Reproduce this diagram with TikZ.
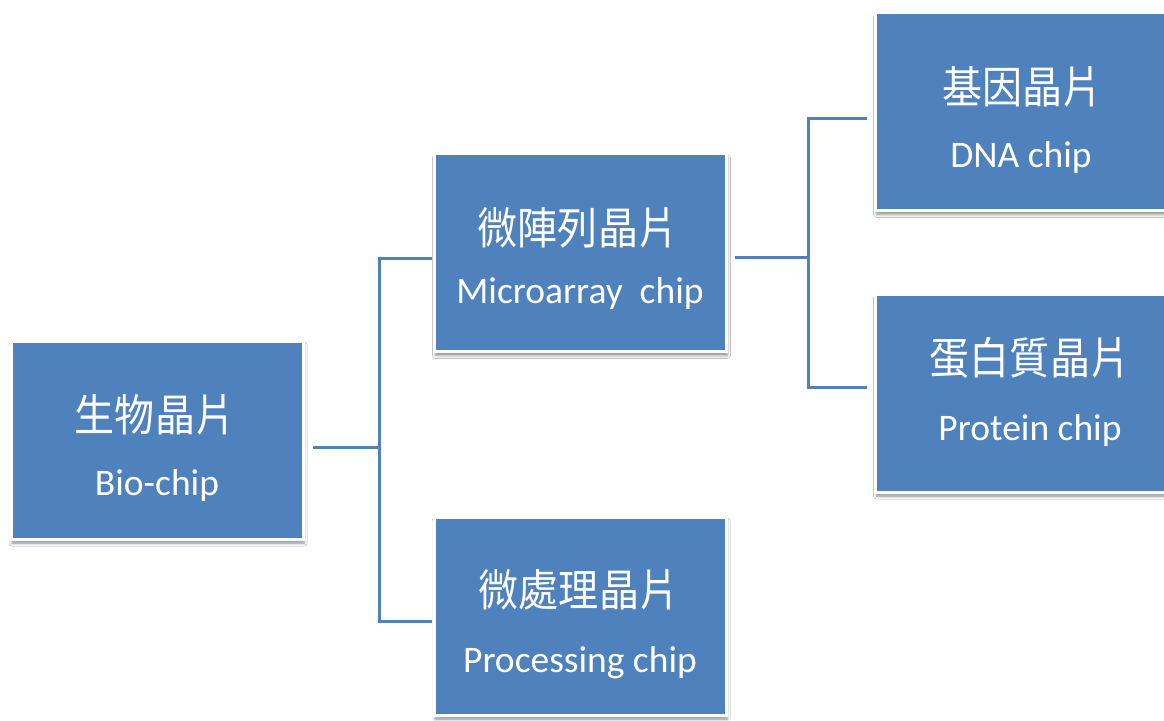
\documentclass[tikz,border=0pt]{standalone}
\usepackage{fontspec}
\setmainfont{Carlito}
\newfontfamily\cjk[FakeStretch=0.91]{Noto Sans CJK TC}
\usetikzlibrary{shadows.blur}
\definecolor{chipblue}{HTML}{4F81BD}
\tikzset{
  chipbox/.style={fill=chipblue, draw=white, line width=3pt, inner sep=0pt,
    minimum width=#1, minimum height=198pt,
    blur shadow={shadow xshift=1pt, shadow yshift=-4pt, shadow blur radius=3pt, shadow opacity=45}},
  chipbox/.default=292pt,
  zh/.style={text=white, font=\cjk\fontsize{44}{52}\selectfont, inner sep=0pt},
  en/.style={text=white, font=\fontsize{37.5}{45}\selectfont, inner sep=0pt, anchor=base},
  conn/.style={draw=chipblue, line width=3pt}
}
\begin{document}
\begin{tikzpicture}[x=1pt, y=-1pt]
\useasboundingbox[fill=white] (0,0) rectangle (1164,720);

% boxes
\node[chipbox] (bio)   at (157,440)    {};
\node[chipbox] (micro) at (580.5,252.5) {};
\node[chipbox] (proc)  at (580,616)    {};
\node[chipbox=296pt] (dna)  at (1023.5,111.5) {};
\node[chipbox=296pt] (prot) at (1023.5,393)   {};

% labels
\node[zh] (bioZh)   at (155,415)    {生物晶片};
\node[en] (bioEn)   at (157,495)    {Bio-chip};
\node[zh] (microZh) at (578,228)    {微陣列晶片};
\node[en] (microEn) at (580,303)    {Microarray\ \ chip};
\node[zh] (procZh)  at (579,589.5)  {微處理晶片};
\node[en] (procEn)  at (580,672)    {Processing chip};
\node[zh] (dnaZh)   at (1022.5,87)  {基因晶片};
\node[en] (dnaEn)   at (1021,167)   {DNA chip};
\node[zh] (protZh)  at (1030,357.5) {蛋白質晶片};
\node[en] (protEn)  at (1030,440)   {Protein chip};

% junctions
\coordinate (j1) at (379,447);
\coordinate (j2) at (808,257);

% connectors
\draw[conn, shorten <=8pt] ([shift={(0,7)}]bio.east) -- (j1);
\draw[conn, shorten >=1pt] (j1) |- ([shift={(0,5.5)}]micro.west);
\draw[conn, shorten >=1pt] (j1) |- ([shift={(0,5)}]proc.west);
\draw[conn, shorten <=7pt] ([shift={(0,4.5)}]micro.east) -- (j2);
\draw[conn, shorten >=7pt] (j2) |- ([shift={(0,6.5)}]dna.west);
\draw[conn, shorten >=7pt] (j2) |- ([shift={(0,-6)}]prot.west);
\end{tikzpicture}
\end{document}
